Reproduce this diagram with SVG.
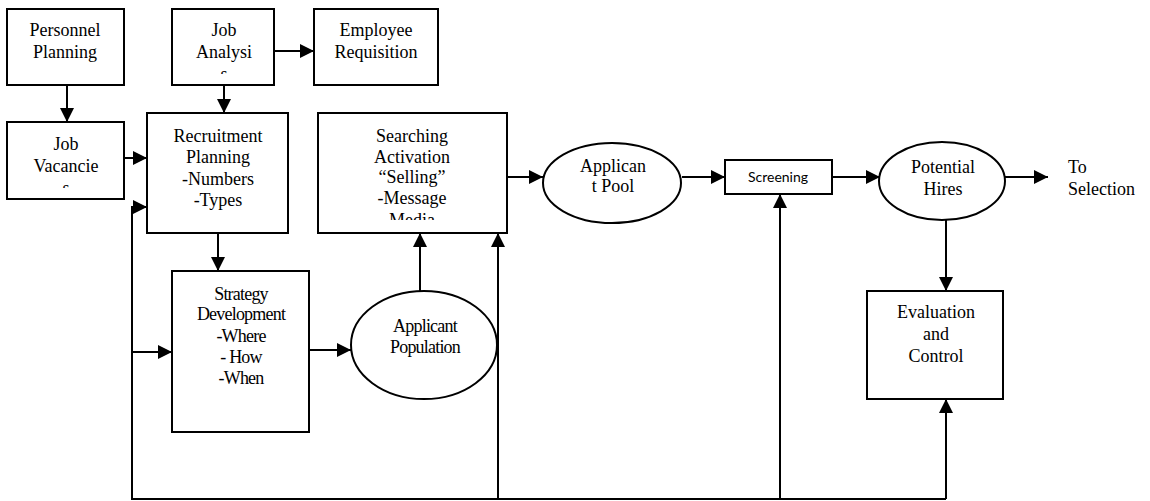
<svg xmlns="http://www.w3.org/2000/svg" width="1150" height="501" viewBox="0 0 1150 501">
<style>
.box{fill:#fff;stroke:#000;stroke-width:2}
.ell{fill:#fff;stroke:#000;stroke-width:2}
.ln{fill:none;stroke:#000;stroke-width:2}
.t{font-family:"Liberation Serif","Times New Roman",serif;font-size:18px;fill:#000;text-anchor:middle}
.c{letter-spacing:-0.8px}
.s{font-family:Lato,"Liberation Sans",sans-serif;font-size:14px;fill:#000;text-anchor:middle}
</style>
<defs>
<marker id="ah" viewBox="0 0 14 14" refX="14" refY="7" markerWidth="14" markerHeight="14" markerUnits="userSpaceOnUse" orient="auto">
<path d="M0,0 L14,7 L0,14 z" fill="#000"/>
</marker>
<clipPath id="cJA"><rect x="172" y="9" width="102" height="65"/></clipPath>
<clipPath id="cJV"><rect x="7" y="122" width="117" height="66"/></clipPath>
<clipPath id="cSA"><rect x="318" y="113" width="189" height="107"/></clipPath>
</defs>

<g id="personnel-planning">
<rect class="box" x="7" y="9" width="117" height="76"/>
<text class="t" x="65" y="36">Personnel</text>
<text class="t" x="65" y="58">Planning</text>
</g>

<g id="job-analysis">
<rect class="box" x="172" y="9" width="102" height="76"/>
<g clip-path="url(#cJA)">
<text class="t" x="224" y="36">Job</text>
<text class="t" x="224" y="58">Analysi</text>
<text class="t" x="224" y="80">s</text>
</g>
</g>

<g id="employee-requisition">
<rect class="box" x="314" y="9" width="124" height="76"/>
<text class="t" x="376" y="36">Employee</text>
<text class="t" x="376" y="58">Requisition</text>
</g>

<g id="job-vacancies">
<rect class="box" x="7" y="122" width="117" height="77"/>
<g clip-path="url(#cJV)">
<text class="t" x="66" y="150">Job</text>
<text class="t" x="66" y="172">Vacancie</text>
<text class="t" x="66" y="194">s</text>
</g>
</g>

<g id="recruitment-planning">
<rect class="box" x="147" y="113" width="141" height="120"/>
<text class="t" x="218" y="142">Recruitment</text>
<text class="t" x="218" y="163">Planning</text>
<text class="t" x="218" y="185">-Numbers</text>
<text class="t" x="218" y="206">-Types</text>
</g>

<g id="searching-activation">
<rect class="box" x="318" y="113" width="189" height="120"/>
<g clip-path="url(#cSA)">
<text class="t" x="412" y="142">Searching</text>
<text class="t" x="412" y="163">Activation</text>
<text class="t" x="412" y="183">“Selling”</text>
<text class="t" x="412" y="204">-Message</text>
<text class="t" x="412" y="226">Media</text>
</g>
</g>

<g id="applicant-pool">
<ellipse class="ell" cx="612" cy="183" rx="69" ry="40"/>
<text class="t" x="613" y="172">Applican</text>
<text class="t" x="613" y="192">t Pool</text>
</g>

<g id="screening">
<rect class="box" x="725" y="160" width="107" height="34"/>
<text class="s" x="778" y="182">Screening</text>
</g>

<g id="potential-hires">
<ellipse class="ell" cx="942" cy="181" rx="63" ry="39"/>
<text class="t" x="943" y="173">Potential</text>
<text class="t" x="943" y="195">Hires</text>
</g>

<g id="to-selection">
<text class="t" x="1068" y="173" style="text-anchor:start">To</text>
<text class="t" x="1068" y="195" style="text-anchor:start">Selection</text>
</g>

<g id="strategy-development">
<rect class="box" x="172" y="271" width="137" height="161"/>
<text class="t c" x="241" y="300">Strategy</text>
<text class="t c" x="241" y="320">Development</text>
<text class="t c" x="241" y="342">-Where</text>
<text class="t c" x="241" y="363">- How</text>
<text class="t c" x="241" y="384">-When</text>
</g>

<g id="applicant-population">
<ellipse class="ell" cx="424" cy="345" rx="73" ry="54"/>
<text class="t c" x="425" y="332">Applicant</text>
<text class="t c" x="425" y="353">Population</text>
</g>

<g id="evaluation-control">
<rect class="box" x="867" y="291" width="136" height="108"/>
<text class="t" x="936" y="318">Evaluation</text>
<text class="t" x="936" y="340">and</text>
<text class="t" x="936" y="362">Control</text>
</g>

<g id="connectors">
<line class="ln" x1="67" y1="85" x2="67" y2="122" marker-end="url(#ah)"/>
<line class="ln" x1="224" y1="85" x2="224" y2="113" marker-end="url(#ah)"/>
<line class="ln" x1="274" y1="51" x2="314" y2="51" marker-end="url(#ah)"/>
<line class="ln" x1="124" y1="158" x2="147" y2="158" marker-end="url(#ah)"/>
<line class="ln" x1="218" y1="233" x2="218" y2="271" marker-end="url(#ah)"/>
<polyline class="ln" points="946,499 132,499 132,207 147,207" marker-end="url(#ah)"/>
<line class="ln" x1="132" y1="352" x2="172" y2="352" marker-end="url(#ah)"/>
<line class="ln" x1="498" y1="499" x2="498" y2="233" marker-end="url(#ah)"/>
<line class="ln" x1="780" y1="499" x2="780" y2="194" marker-end="url(#ah)"/>
<line class="ln" x1="946" y1="499" x2="946" y2="399" marker-end="url(#ah)"/>
<line class="ln" x1="309" y1="350" x2="351" y2="350" marker-end="url(#ah)"/>
<line class="ln" x1="420" y1="291" x2="420" y2="233" marker-end="url(#ah)"/>
<line class="ln" x1="507" y1="177" x2="543" y2="177" marker-end="url(#ah)"/>
<line class="ln" x1="682" y1="177" x2="725" y2="177" marker-end="url(#ah)"/>
<line class="ln" x1="832" y1="177" x2="880" y2="177" marker-end="url(#ah)"/>
<line class="ln" x1="1005" y1="177" x2="1048" y2="177" marker-end="url(#ah)"/>
<line class="ln" x1="946" y1="220" x2="946" y2="291" marker-end="url(#ah)"/>
</g>
</svg>
